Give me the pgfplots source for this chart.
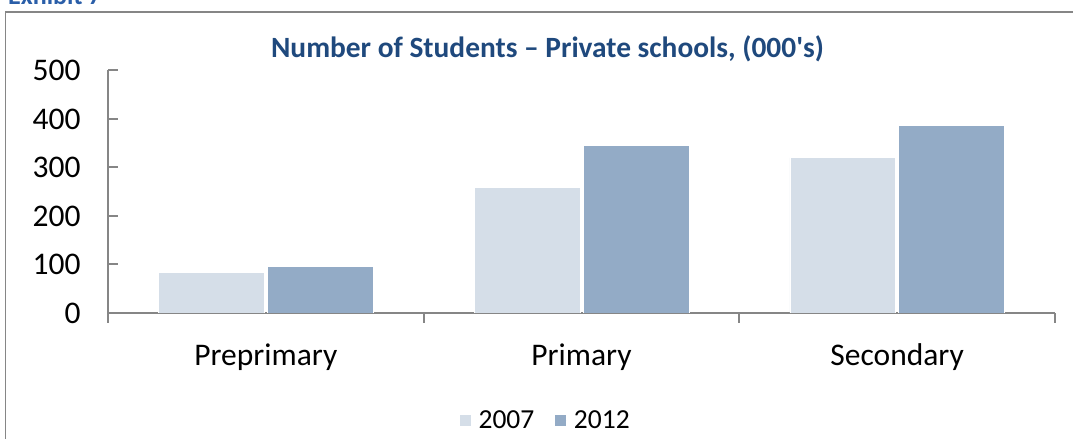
\documentclass[border=0pt]{standalone}
\usepackage{fontspec}
\setmainfont{Carlito}
\usepackage{pgfplots}
\pgfplotsset{compat=1.18}
\definecolor{c07}{HTML}{D5DEE8}
\definecolor{c12}{HTML}{93ABC6}
\definecolor{axg}{HTML}{868686}
\definecolor{ttl}{HTML}{1F497D}
\definecolor{exb}{HTML}{2A5EA8}
\begin{document}
\begin{tikzpicture}
\draw[axg, line width=1.5bp] (5.5bp,-5bp) -- (5.5bp,427bp) -- (1080bp,427bp);
\node[anchor=base west, inner sep=0, text=exb, font=\bfseries\fontsize{26bp}{30bp}\selectfont] at (8bp,434bp) {Exhibit 7};
\begin{axis}[at={(108bp,126bp)}, anchor=south west, scale only axis,
  width=947bp, height=242.5bp,
  xmin=-0.5, xmax=2.5, ymin=0, ymax=500,
  axis x line*=bottom, axis y line*=left,
  axis line style={axg, line width=2bp},
  ytick={0,100,...,500},
  xtick={-0.5,0.5,1.5,2.5}, xticklabels={},
  extra x ticks={0,1,2}, extra x tick labels={Preprimary,Primary,Secondary},
  extra x tick style={major tick length=0pt, xticklabel style={yshift=-27bp}},
  tick align=inside, major tick length=10bp,
  tick style={axg, line width=2bp},
  tick label style={font=\fontsize{31.5bp}{37bp}\selectfont},
  /pgf/number format/assume math mode=true,
  yticklabel style={xshift=-24bp},
  ybar, bar width=0.335,
  legend style={draw=none, fill=none, at={(0.4618,-0.443)}, anchor=center,
    legend columns=2, font=\fontsize{27.5bp}{32bp}\selectfont,
    /tikz/every even column/.append style={column sep=18bp}},
  legend image code/.code={\fill[#1] (0bp,-6bp) rectangle (12bp,6bp); \path (12bp,0bp) -- (17bp,0bp);},
]
\addplot[fill=c07, draw=white, line width=0.6bp, bar shift=-0.1725] coordinates {(0,84) (1,259) (2,320)};
\addplot[fill=c12, draw=white, line width=0.6bp, bar shift=0.1725] coordinates {(0,96) (1,345) (2,387)};
\legend{2007,2012}
\end{axis}
\node[anchor=base, text=ttl, font=\bfseries\fontsize{29.4bp}{34bp}\selectfont] at (547.5bp,381bp) {Number of Students – Private schools, (000\textquotesingle s)};
\pgfresetboundingbox
\path[use as bounding box] (0,0) rectangle (1073bp,439bp);
\end{tikzpicture}
\end{document}
